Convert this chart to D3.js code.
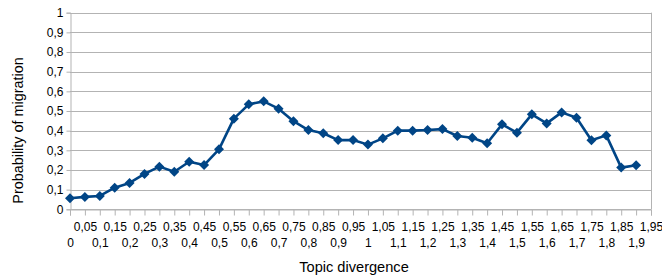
<!DOCTYPE html>
<html>
<head>
<meta charset="utf-8">
<script src="https://cdn.jsdelivr.net/npm/d3@7"></script>
<style>
  body { margin: 0; background: #fff; }
  text { font-family: "Liberation Sans", Arial, sans-serif; fill: #000; }
</style>
</head>
<body>
<div id="chart"></div>
<script>
var categories = [];
for (var i = 0; i < 40; i++) categories.push((i * 0.05).toFixed(2).replace(/0$/, "").replace(/\.0?$/, ""));

var probability = [0.056, 0.063, 0.068, 0.11, 0.134, 0.18, 0.217, 0.191, 0.242, 0.225,
  0.305, 0.461, 0.534, 0.549, 0.512, 0.448, 0.403, 0.387, 0.352, 0.352,
  0.329, 0.361, 0.4, 0.4, 0.403, 0.408, 0.373, 0.364, 0.336, 0.432,
  0.39, 0.483, 0.437, 0.493, 0.466, 0.351, 0.376, 0.212, 0.224];

var yTicks = [0, 0.1, 0.2, 0.3, 0.4, 0.5, 0.6, 0.7, 0.8, 0.9, 1];

var width = 662, height = 277;
var margin = { top: 12.7, right: 11, bottom: 67.7, left: 70 };

var svg = d3.select("#chart").append("svg").attr("width", width).attr("height", height);

var x = d3.scalePoint(categories, [margin.left, width - margin.right]);
var y = d3.scaleLinear([0, 1], [height - margin.bottom, margin.top]);
var fmt = function (v) { return String(v).replace(".", ","); };

// grid
svg.append("g")
  .selectAll("line")
  .data(yTicks)
  .join("line")
  .attr("x1", margin.left)
  .attr("x2", width - margin.right)
  .attr("y1", function (d) { return Math.round(y(d)) + 0.5; })
  .attr("y2", function (d) { return Math.round(y(d)) + 0.5; })
  .attr("stroke", "#b3b3b3");

// right wall border
svg.append("line")
  .attr("x1", Math.round(width - margin.right) + 0.5)
  .attr("x2", Math.round(width - margin.right) + 0.5)
  .attr("y1", y(1))
  .attr("y2", y(0))
  .attr("stroke", "#b3b3b3");

// y axis
var yAxis = svg.append("g")
  .attr("transform", "translate(" + (Math.round(margin.left) + 0.5) + ",0)")
  .call(d3.axisLeft(y).tickValues(yTicks).tickFormat(fmt).tickSize(4).tickPadding(3));
yAxis.select(".domain").attr("stroke", "#b3b3b3");
yAxis.selectAll(".tick line").attr("stroke", "#b3b3b3");
yAxis.selectAll("text").attr("font-size", 12).attr("font-family", "Liberation Sans, Arial, sans-serif").attr("fill", "#000");

// x axis
var xAxis = svg.append("g")
  .attr("transform", "translate(0," + (Math.round(y(0)) + 0.5) + ")")
  .call(d3.axisBottom(x).tickSize(6).tickFormat(fmt));
xAxis.select(".domain").attr("stroke", "#b3b3b3");
xAxis.selectAll(".tick line").attr("stroke", "#b3b3b3");
xAxis.selectAll("text")
  .attr("font-size", 12)
  .attr("font-family", "Liberation Sans, Arial, sans-serif")
  .attr("fill", "#000")
  .attr("dy", null)
  .attr("y", function (d, i) { return i % 2 ? 21 : 37; });

// line
var pts = probability.map(function (v, i) { return [x(categories[i]), y(v)]; });
svg.append("path")
  .datum(pts)
  .attr("fill", "none")
  .attr("stroke", "#004586")
  .attr("stroke-width", 2.6)
  .attr("stroke-linejoin", "round")
  .attr("d", d3.line());

svg.append("g")
  .attr("fill", "#004586")
  .selectAll("path")
  .data(pts)
  .join("path")
  .attr("transform", function (d) { return "translate(" + d[0] + "," + d[1] + ")"; })
  .attr("d", "M0,-5L5,0L0,5L-5,0Z");

// titles
svg.append("text")
  .attr("x", 354)
  .attr("y", 272)
  .attr("text-anchor", "middle")
  .attr("font-size", 14.6)
  .text("Topic divergence");

svg.append("text")
  .attr("transform", "translate(22.5,130.5) rotate(-90)")
  .attr("text-anchor", "middle")
  .attr("font-size", 14.4)
  .text("Probability of migration");
</script>
</body>
</html>
